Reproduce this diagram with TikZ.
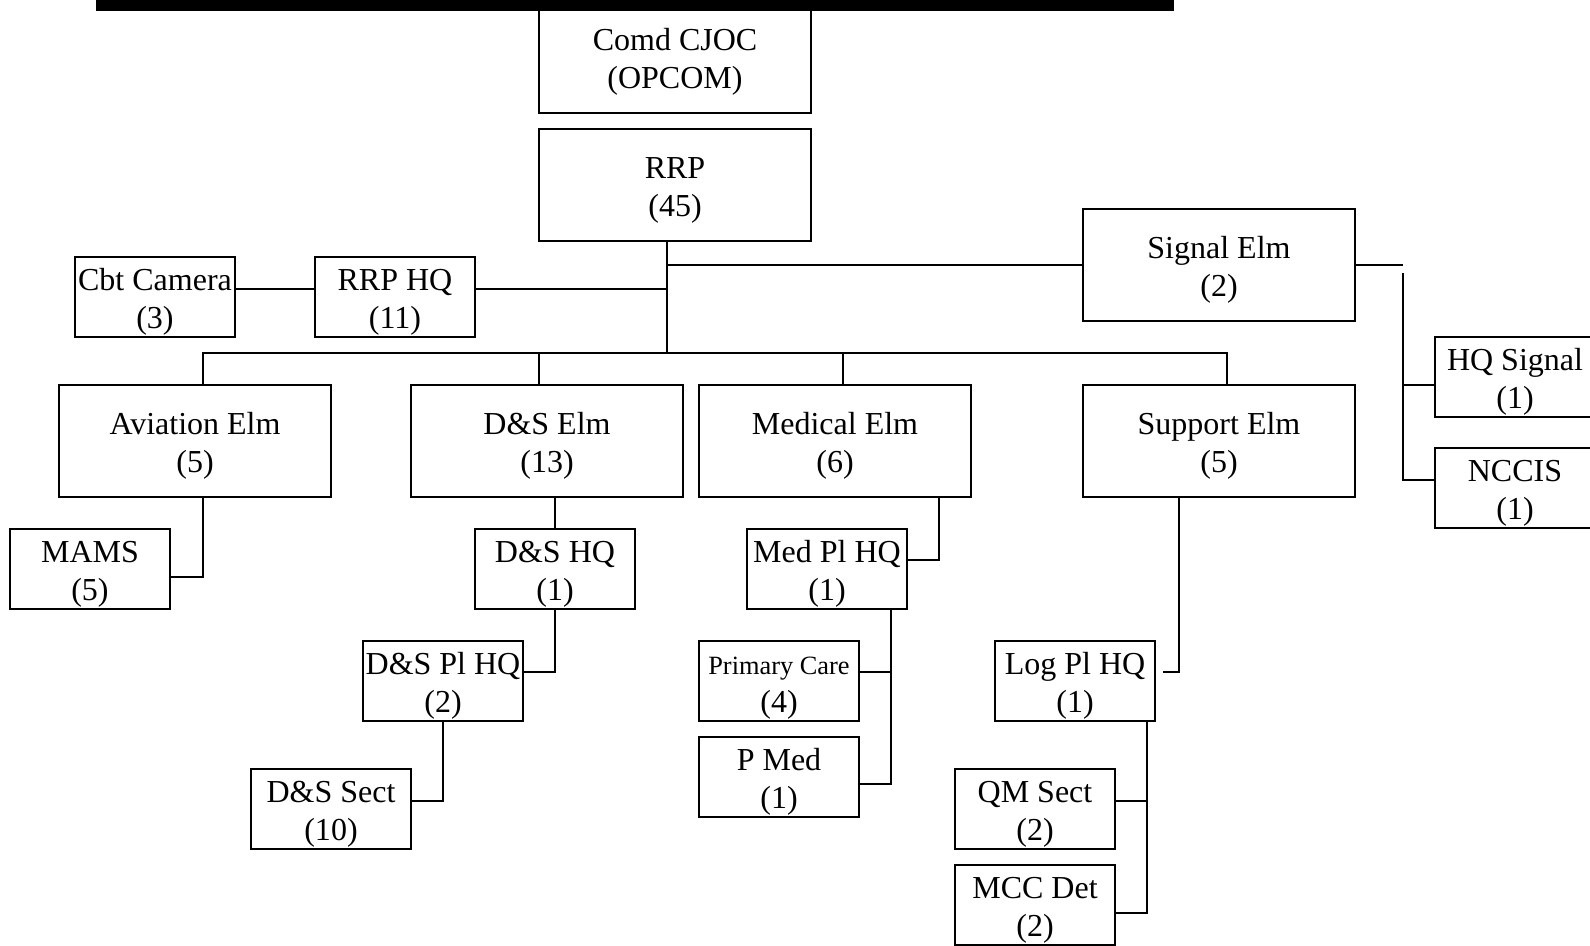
\documentclass[tikz,border=0pt]{standalone}
\usepackage{fontspec}
\setmainfont{Liberation Serif}
\newcommand\tstrut{\rule{0pt}{9.1pt}}
\begin{document}
\begin{tikzpicture}[x=0.01cm,y=-0.01cm,
  line width=0.6pt,
  box/.style={draw, line width=0.6pt, inner sep=0pt, align=center,
    font=\fontsize{9.1}{10.8}\selectfont},
  bigbox/.style={box, minimum width=2.72cm, minimum height=1.12cm},
  smallbox/.style={box, minimum width=1.60cm, minimum height=0.80cm}]
\useasboundingbox (0,0) rectangle (1590,946);
% top bar
\fill (96,0) rectangle (1174,11);
% big boxes
\node[bigbox] (comd) at (675,57) {\tstrut Comd CJOC\\(OPCOM)};
\node[bigbox] (rrp)  at (675,185) {\tstrut RRP\\(45)};
\node[bigbox] (sig)  at (1219,265) {\tstrut Signal Elm\\(2)};
\node[bigbox] (avn)  at (195,441) {\tstrut Aviation Elm\\(5)};
\node[bigbox] (dse)  at (547,441) {\tstrut D\&S Elm\\(13)};
\node[bigbox] (med)  at (835,441) {\tstrut Medical Elm\\(6)};
\node[bigbox] (sup)  at (1219,441) {\tstrut Support Elm\\(5)};
% small boxes
\node[smallbox] (cbt)    at (155,297) {\tstrut Cbt Camera\\(3)};
\node[smallbox] (rrphq)  at (395,297) {\tstrut RRP HQ\\(11)};
\node[smallbox] (mams)   at (90,569) {\tstrut MAMS\\(5)};
\node[smallbox] (dshq)   at (555,569) {\tstrut D\&S HQ\\(1)};
\node[smallbox] (medhq)  at (827,569) {\tstrut Med Pl HQ\\(1)};
\node[smallbox] (dsplhq) at (443,681) {\tstrut D\&S Pl HQ\\(2)};
\node[smallbox] (pc)     at (779,681) {\tstrut{\fontsize{7.5}{9}\selectfont Primary Care}\\(4)};
\node[smallbox] (loghq)  at (1075,681) {\tstrut Log Pl HQ\\(1)};
\node[smallbox] (pmed)   at (779,777) {\tstrut P Med\\(1)};
\node[smallbox] (dssect) at (331,809) {\tstrut D\&S Sect\\(10)};
\node[smallbox] (qm)     at (1035,809) {\tstrut QM Sect\\(2)};
\node[smallbox] (mcc)    at (1035,905) {\tstrut MCC Det\\(2)};
\node[smallbox] (hqsig)  at (1515,377) {\tstrut HQ Signal\\(1)};
\node[smallbox] (nccis)  at (1515,488) {\tstrut NCCIS\\(1)};
% coordinates for connectors
\coordinate (trunk) at (667,353);
\coordinate (busL) at (203,353);
\coordinate (busR) at (1227,353);
\coordinate (dsedrop) at (539,353);
\coordinate (meddrop) at (843,353);
\coordinate (hqline) at (600,289);
\coordinate (sigend) at (1403,265);
\coordinate (sigtop) at (1403,273);
\coordinate (sigbot) at (1403,480);
\coordinate (hqsigbr) at (1403,385);
\coordinate (mamsbr) at (203,577);
\coordinate (medbr) at (939,560);
\coordinate (dsbr) at (555,672);
\coordinate (dsplbr) at (443,801);
\coordinate (pcbr) at (891,672);
\coordinate (pmedbr) at (891,784);
\coordinate (supbr) at (1179,672);
\coordinate (logend) at (1163,672);
\coordinate (qmbr) at (1147,801);
\coordinate (mccbr) at (1147,913);
% connectors
\draw (rrp.south -| trunk) -- (trunk);
\draw (sig.west -| trunk) -- (sig.west);
\draw (rrphq.east |- hqline) -- (hqline -| trunk);
\draw (cbt.east |- hqline) -- (rrphq.west |- hqline);
\draw (avn.north -| busL) -- (busL) -- (busR) -- (sup.north -| busR);
\draw (dsedrop) -- (dse.north -| dsedrop);
\draw (meddrop) -- (med.north -| meddrop);
\draw (sig.east) -- (sig.east -| sigend);
\draw (sigtop) -- (sigbot) -- (nccis.west |- sigbot);
\draw (hqsigbr) -- (hqsig.west |- hqsigbr);
\draw (avn.south -| mamsbr) -- (mamsbr) -- (mams.east |- mamsbr);
\draw (dse.south -| dshq.north) -- (dshq.north);
\draw (med.south -| medbr) -- (medbr) -- (medhq.east |- medbr);
\draw (dshq.south) -- (dsbr) -- (dsplhq.east |- dsbr);
\draw (dsplhq.south) -- (dsplbr) -- (dssect.east |- dsplbr);
\draw (medhq.south -| pcbr) -- (pmedbr) -- (pmed.east |- pmedbr);
\draw (pcbr) -- (pc.east |- pcbr);
\draw (sup.south -| supbr) -- (supbr) -- (logend);
\draw (loghq.south -| qmbr) -- (mccbr) -- (mcc.east |- mccbr);
\draw (qmbr) -- (qm.east |- qmbr);
\end{tikzpicture}
\end{document}
